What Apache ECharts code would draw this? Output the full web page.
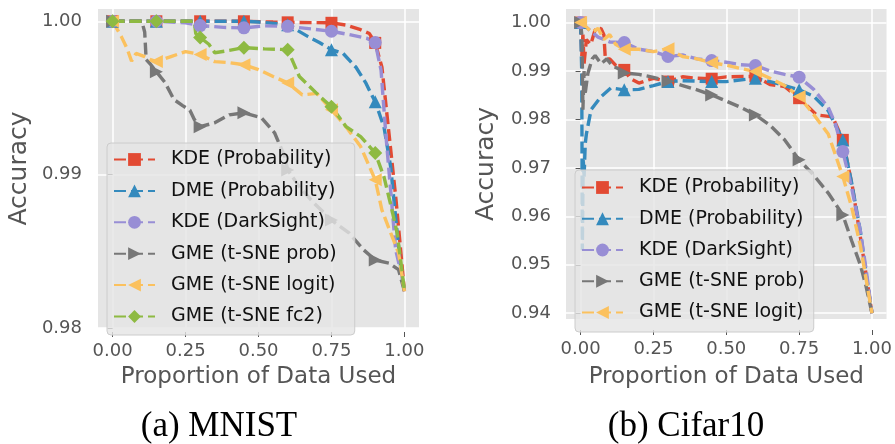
<!DOCTYPE html>
<html>
<head>
<meta charset="utf-8">
<script src="https://cdn.jsdelivr.net/npm/echarts@6/dist/echarts.min.js"></script>
<style>
  html, body { margin: 0; padding: 0; background: #fff; }
  #chart { width: 895px; height: 444px; }
</style>
</head>
<body>
<div id="chart"></div>
<script>
// x positions where markers are drawn (every 0.15)
const markerX = [0, 0.15, 0.3, 0.45, 0.6, 0.75, 0.9]
const xTicks = [0, 0.25, 0.5, 0.75, 1.0]
const mnistYTicks = [0.98, 0.99, 1.0]
const cifarYTicks = [0.94, 0.95, 0.96, 0.97, 0.98, 0.99, 1.0]

const names = [
  'KDE (Probability)',
  'DME (Probability)',
  'KDE (DarkSight)',
  'GME (t-SNE prob)',
  'GME (t-SNE logit)',
  'GME (t-SNE fc2)'
]

// (a) MNIST, [proportion, accuracy]
const mnistKdeProb = [[0, 1.0], [0.15, 1.0], [0.3, 1.0], [0.45, 1.0], [0.55, 0.99995], [0.6, 0.99993], [0.75, 0.9999], [0.8, 0.99975], [0.85, 0.99945], [0.88, 0.9992], [0.9, 0.99859], [0.923, 0.9970], [0.947, 0.9927], [0.971, 0.9884], [0.987, 0.9851], [1.0, 0.9824]]
const mnistDmeProb = [[0, 1.0], [0.15, 1.0], [0.3, 1.0], [0.45, 1.0], [0.5, 0.99995], [0.6, 0.99978], [0.67, 0.9990], [0.71, 0.9986], [0.75, 0.99815], [0.79, 0.9979], [0.834, 0.9970], [0.867, 0.9960], [0.885, 0.9953], [0.9, 0.99476], [0.93, 0.9931], [0.953, 0.9905], [0.97, 0.9872], [0.987, 0.9840], [1.0, 0.9824]]
const mnistKdeDark = [[0, 1.0], [0.15, 1.0], [0.25, 0.9999], [0.3, 0.99972], [0.38, 0.9996], [0.45, 0.99957], [0.52, 0.9997], [0.6, 0.99967], [0.68, 0.9995], [0.75, 0.99935], [0.82, 0.9991], [0.87, 0.9989], [0.9, 0.99861], [0.92, 0.9968], [0.936, 0.9927], [0.955, 0.9885], [0.97, 0.9851], [0.99, 0.9835], [1.0, 0.9824]]
const mnistGmeProb = [[0, 1.0], [0.1, 1.0], [0.11, 0.9993], [0.115, 0.9975], [0.13, 0.9972], [0.15, 0.99671], [0.18, 0.9960], [0.21, 0.9949], [0.24, 0.9945], [0.265, 0.9942], [0.28, 0.9936], [0.3, 0.99313], [0.35, 0.99338], [0.4, 0.9939], [0.45, 0.99403], [0.51, 0.99371], [0.555, 0.99273], [0.59, 0.99117], [0.6, 0.99031], [0.64, 0.9892], [0.69, 0.98815], [0.75, 0.98704], [0.81, 0.9862], [0.86, 0.9851], [0.9, 0.98443], [0.947, 0.98423], [0.98, 0.9838], [1.0, 0.9824]]
const mnistGmeLogit = [[0, 1.0], [0.03, 0.9990], [0.05, 0.9982], [0.065, 0.9974], [0.08, 0.9979], [0.11, 0.9977], [0.13, 0.9975], [0.15, 0.99737], [0.2, 0.9977], [0.25, 0.99802], [0.3, 0.99783], [0.35, 0.99737], [0.4, 0.9973], [0.45, 0.99717], [0.5, 0.99685], [0.55, 0.9964], [0.6, 0.99598], [0.65, 0.9952], [0.7, 0.9953], [0.75, 0.99423], [0.8, 0.99313], [0.85, 0.99183], [0.9, 0.98966], [0.923, 0.98769], [0.953, 0.9862], [0.98, 0.98489], [1.0, 0.9824]]
const mnistGmeFc2 = [[0, 1.0], [0.15, 1.0], [0.28, 1.0], [0.285, 0.9992], [0.3, 0.99894], [0.33, 0.9985], [0.35, 0.99795], [0.4, 0.9981], [0.45, 0.99828], [0.52, 0.9982], [0.6, 0.99815], [0.64, 0.9964], [0.71, 0.9951], [0.75, 0.99443], [0.8, 0.99313], [0.85, 0.99248], [0.9, 0.99141], [0.93, 0.98985], [0.955, 0.98789], [0.975, 0.9862], [0.99, 0.984], [1.0, 0.9824]]

// (b) Cifar10, [proportion, accuracy]
const cifarKdeProb = [[0, 1.0], [0.004, 0.993], [0.008, 0.9975], [0.012, 0.9915], [0.02, 0.9965], [0.035, 0.9955], [0.05, 0.9985], [0.07, 0.9988], [0.08, 0.9975], [0.085, 0.9925], [0.1, 0.9925], [0.12, 0.9912], [0.15, 0.99023], [0.17, 0.9885], [0.2, 0.9875], [0.25, 0.9885], [0.3, 0.98782], [0.35, 0.9888], [0.4, 0.9885], [0.45, 0.9884], [0.5, 0.9888], [0.6, 0.9889], [0.65, 0.9872], [0.7, 0.9868], [0.75, 0.98439], [0.81, 0.98094], [0.865, 0.98053], [0.9, 0.97578], [0.933, 0.9661], [0.967, 0.9531], [1.0, 0.94]]
const cifarDmeProb = [[0, 1.0], [0.004, 0.990], [0.006, 0.953], [0.009, 0.972], [0.012, 0.968], [0.016, 0.975], [0.02, 0.977], [0.036, 0.982], [0.07, 0.9847], [0.104, 0.9865], [0.15, 0.98611], [0.2, 0.9862], [0.25, 0.9870], [0.3, 0.98782], [0.35, 0.9880], [0.45, 0.98782], [0.5, 0.9878], [0.6, 0.98851], [0.65, 0.9878], [0.7, 0.9870], [0.75, 0.98611], [0.8, 0.9848], [0.85, 0.9818], [0.9, 0.97578], [0.93, 0.967], [0.96, 0.957], [0.98, 0.948], [1.0, 0.94]]
const cifarKdeDark = [[0, 1.0], [0.03, 0.9985], [0.06, 0.997], [0.1, 0.996], [0.15, 0.99587], [0.2, 0.9945], [0.25, 0.9940], [0.3, 0.9930], [0.35, 0.9933], [0.4, 0.9925], [0.45, 0.99215], [0.5, 0.9918], [0.55, 0.9913], [0.6, 0.99112], [0.65, 0.9900], [0.7, 0.9893], [0.75, 0.98873], [0.8, 0.9862], [0.85, 0.9825], [0.875, 0.979], [0.9, 0.97337], [0.93, 0.966], [0.96, 0.957], [0.98, 0.949], [1.0, 0.94]]
const cifarGmeProb = [[0, 1.0], [0.005, 0.997], [0.008, 0.982], [0.012, 0.990], [0.015, 0.985], [0.025, 0.9895], [0.04, 0.9925], [0.05, 0.9932], [0.07, 0.9915], [0.09, 0.9925], [0.11, 0.991], [0.13, 0.9905], [0.15, 0.98961], [0.2, 0.9893], [0.25, 0.9887], [0.3, 0.9879], [0.35, 0.9870], [0.4, 0.9861], [0.45, 0.98507], [0.5, 0.9838], [0.55, 0.9825], [0.6, 0.98094], [0.65, 0.9788], [0.7, 0.9758], [0.75, 0.97166], [0.8, 0.9685], [0.85, 0.9648], [0.9, 0.96029], [0.93, 0.955], [0.96, 0.950], [0.98, 0.9455], [1.0, 0.94]]
const cifarGmeLogit = [[0, 1.0], [0.02, 0.999], [0.04, 0.998], [0.06, 0.9988], [0.08, 0.9965], [0.1, 0.9975], [0.12, 0.9955], [0.15, 0.9945], [0.2, 0.9945], [0.25, 0.9940], [0.3, 0.9946], [0.35, 0.9930], [0.4, 0.9925], [0.45, 0.9917], [0.5, 0.9912], [0.55, 0.9905], [0.6, 0.98988], [0.65, 0.9885], [0.7, 0.9870], [0.75, 0.98472], [0.8, 0.9810], [0.85, 0.9770], [0.9, 0.9682], [0.93, 0.962], [0.96, 0.954], [0.98, 0.947], [1.0, 0.94]]

const mnistSeries = [mnistKdeProb, mnistDmeProb, mnistKdeDark, mnistGmeProb, mnistGmeLogit, mnistGmeFc2]
const cifarSeries = [cifarKdeProb, cifarDmeProb, cifarKdeDark, cifarGmeProb, cifarGmeLogit]

// ggplot style look
const colors = ['#E24A33', '#348ABD', '#988ED5', '#777777', '#FBC15E', '#8EBA42']
const symbols = ['rect', 'triangle', 'circle', 'triangle', 'triangle', 'diamond']
const symbolRotates = [0, 0, 0, -90, 90, 0]
const symbolSizes = [12, 13, 13, 13, 13, 14]

const tickColor = '#555'
const sansFont = 'DejaVu Sans'

const isMarker = (x) => markerX.some(m => Math.abs(m - x) < 1e-9)

const buildSeries = (points, idx, gridIdx) => ({
  type: 'line',
  name: names[idx],
  xAxisIndex: gridIdx,
  yAxisIndex: gridIdx,
  data: points.map(([x, y]) => isMarker(x) ? { value: [x, y] } : { value: [x, y], symbol: 'none' }),
  symbol: symbols[idx],
  symbolSize: symbolSizes[idx],
  symbolRotate: symbolRotates[idx],
  showSymbol: true,
  clip: false,
  animation: false,
  lineStyle: { color: colors[idx], width: 3.4, type: [12, 5] },
  itemStyle: { color: colors[idx], borderWidth: 0 },
  emphasis: { disabled: true }
})

const xAxisCommon = (gridIdx, offset, nameGap) => ({
  type: 'value',
  gridIndex: gridIdx,
  min: -0.05,
  max: 1.05,
  offset: offset,
  axisLine: { show: false },
  axisTick: { show: true, length: 5, customValues: xTicks, lineStyle: { color: tickColor, width: 1 } },
  axisLabel: {
    customValues: xTicks,
    formatter: (v) => v.toFixed(2),
    margin: 10,
    color: tickColor,
    fontSize: 18,
    fontFamily: sansFont
  },
  splitLine: { show: true, lineStyle: { color: '#ffffff', width: 1.5 } },
  name: 'Proportion of Data Used',
  nameLocation: 'middle',
  nameGap: nameGap,
  nameTextStyle: { color: tickColor, fontSize: 23, fontFamily: sansFont }
})

const yAxisCommon = (gridIdx, min, max, ticks, offset, margin) => ({
  type: 'value',
  gridIndex: gridIdx,
  min: min,
  max: max,
  offset: offset,
  axisLine: { show: false },
  axisTick: { show: true, length: 5, customValues: ticks, lineStyle: { color: tickColor, width: 1 } },
  axisLabel: {
    customValues: ticks,
    formatter: (v) => v.toFixed(2),
    margin: margin,
    color: tickColor,
    fontSize: 18,
    fontFamily: sansFont
  },
  splitLine: { show: true, lineStyle: { color: '#ffffff', width: 1.5 } },
  name: 'Accuracy',
  nameLocation: 'middle',
  nameRotate: 90,
  nameGap: 63,
  nameTextStyle: { color: tickColor, fontSize: 25, fontFamily: sansFont }
})

const legendCommon = {
  orient: 'vertical',
  itemWidth: 41,
  itemHeight: 16,
  itemGap: 12.4,
  backgroundColor: 'rgba(229,229,229,0.8)',
  borderColor: '#cccccc',
  borderWidth: 1,
  borderRadius: 4,
  selectedMode: false,
  textStyle: { color: '#111', fontSize: 19, fontFamily: sansFont, lineHeight: 16, padding: [0, 0, 0, 11] }
}

const chart = echarts.init(document.getElementById('chart'), null, { renderer: 'canvas' })

const option = {
  animation: false,
  backgroundColor: '#ffffff',
  grid: [
    { left: 98, top: 9, width: 321, height: 319, show: true, backgroundColor: '#E5E5E5', borderWidth: 0 },
    { left: 566, top: 9, width: 321, height: 310, show: true, backgroundColor: '#E5E5E5', borderWidth: 0 }
  ],
  xAxis: [
    xAxisCommon(0, 4, 34),
    xAxisCommon(1, 11, 36)
  ],
  yAxis: [
    yAxisCommon(0, 0.98, 1.0008, mnistYTicks, 3, 13),
    yAxisCommon(1, 0.9388, 1.0028, cifarYTicks, 4, 11)
  ],
  legend: [
    Object.assign({}, legendCommon, { left: 107, top: 143, padding: [7, 18, 9, 6], data: names }),
    Object.assign({}, legendCommon, { left: 575, top: 170, padding: [8, 9, 10, 6], data: names.slice(0, 5), itemGap: 12.25 })
  ],
  graphic: [
    { type: 'text', x: 219, y: 427, style: { text: '(a) MNIST', align: 'center', verticalAlign: 'middle', font: '35px "Liberation Serif"', fill: '#000' } },
    { type: 'text', x: 686, y: 427, style: { text: '(b) Cifar10', align: 'center', verticalAlign: 'middle', font: '35px "Liberation Serif"', fill: '#000' } }
  ],
  series: [
    ...mnistSeries.map((pts, i) => buildSeries(pts, i, 0)),
    ...cifarSeries.map((pts, i) => buildSeries(pts, i, 1))
  ]
}

chart.setOption(option)

window.addEventListener('resize', () => {
  chart.resize()
})
</script>
</body>
</html>
